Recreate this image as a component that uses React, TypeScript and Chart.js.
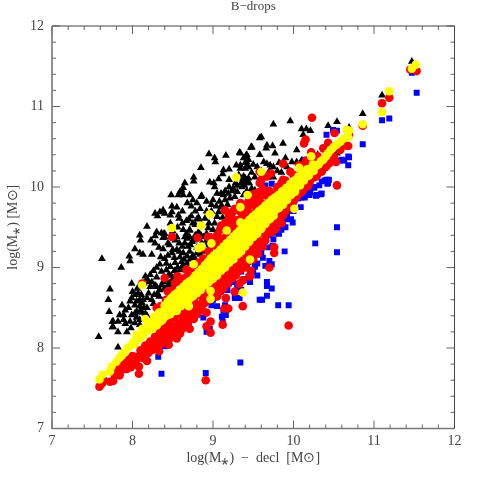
import React, { useEffect, useRef } from "react";
import { Chart, registerables } from "chart.js";

Chart.register(...registerables);

type P = [number, number];

const titleText = "B\u2212drops";
const xLabel = "log(M\u204E)  \u2212  decl  [M\u2299]";
const yLabel = "log(M\u204E) [M\u2299]";
const tickValues = [7, 7.2, 7.4, 7.6, 7.8, 8, 8.2, 8.4, 8.6, 8.8, 9, 9.2, 9.4, 9.6, 9.8, 10, 10.2, 10.4, 10.6, 10.8, 11, 11.2, 11.4, 11.6, 11.8, 12];

const blackPts: P[] = [
  [9.58,10.61],[9.48,10.50],[9.33,10.43],[9.41,10.39],[9.16,10.39],[8.95,10.41],[9.48,10.49],[9.42,10.40],[9.38,10.36],[9.02,10.36],
  [9.03,10.31],[9.42,10.31],[9.43,10.25],[8.85,10.24],[9.29,10.27],[9.34,10.23],[9.20,10.22],[9.13,10.21],[9.12,10.16],[9.07,10.10],
  [8.76,10.12],[8.76,10.07],[8.96,10.06],[9.01,10.05],[9.20,10.09],[9.02,10.00],[9.38,10.13],[9.42,10.08],[9.45,10.05],[9.39,10.02],
  [8.65,10.05],[8.63,9.99],[8.61,9.96],[8.59,9.94],[8.57,9.90],[8.63,9.90],[8.48,9.90],[8.71,9.90],[8.75,9.84],[8.86,9.89],
  [9.05,9.92],[9.13,9.90],[9.19,9.92],[9.15,9.84],[9.21,9.86],[9.27,9.88],[8.92,9.82],[9.00,9.84],[8.98,9.78],[8.84,9.73],
  [8.73,9.76],[8.49,9.76],[8.49,9.69],[8.47,9.65],[8.38,9.71],[8.34,9.69],[8.28,9.67],[8.40,9.67],[8.31,9.64],[8.58,9.61],
  [8.57,9.65],[8.73,9.64],[8.67,9.58],[8.90,9.61],[8.82,9.62],[8.80,9.60],[9.07,9.69],[9.05,9.63],[8.71,9.47],[8.63,9.47],
  [8.67,9.42],[8.30,9.44],[8.40,9.42],[8.28,9.39],[8.38,9.37],[8.65,9.38],[8.94,9.49],[8.92,9.42],[9.00,9.47],[8.88,9.38],
  [8.98,9.38],[8.71,9.38],[8.78,9.53],[7.62,9.11],[7.86,9.00],[7.96,9.14],[7.97,9.08],[8.18,9.51],[8.09,9.40],[8.10,9.34],
  [8.03,9.23],[8.09,9.18],[8.13,9.16],[7.99,8.80],[7.72,8.73],[7.70,8.60],[7.71,8.45],[7.87,8.53],[7.75,8.33],[7.75,8.26],
  [7.58,8.14],[7.82,8.01],[8.36,9.43],[8.23,9.34],[8.28,9.30],[8.40,9.38],[8.38,9.23],[8.49,9.18],[8.24,9.16],[8.35,9.13],
  [8.40,9.11],[8.53,9.06],[8.22,8.91],[8.16,8.89],[8.47,9.01],[8.42,8.97],[8.45,8.91],[8.36,8.95],[8.24,8.82],[8.28,8.78],
  [8.22,8.76],[8.34,8.72],[8.03,8.66],[8.07,8.68],[8.11,8.66],[7.99,8.62],[8.05,8.58],[8.09,8.60],[8.13,8.60],[7.97,8.58],
  [8.03,8.53],[8.09,8.52],[8.24,8.60],[8.26,8.55],[7.91,8.47],[7.84,8.41],[7.89,8.41],[7.99,8.41],[8.03,8.43],[7.76,8.33],
  [7.82,8.33],[7.89,8.35],[7.97,8.33],[8.03,8.31],[7.76,8.26],[7.91,8.30],[8.09,8.29],[8.09,8.35],[8.16,8.43],[8.76,9.34],
  [8.71,9.46],[8.74,9.32],[8.69,9.26],[8.65,9.30],[8.71,9.20],[8.63,9.18],[8.59,9.13],[8.61,9.07],[8.47,9.55],[8.39,9.42],
  [8.42,9.05],[8.20,8.82],[8.30,8.88],[8.05,8.45],[8.14,8.50],[8.18,8.62],[8.31,8.68],[8.55,9.22],[8.58,9.30],[8.82,9.44],
  [8.86,9.30],[8.52,9.12],[8.46,9.28],[8.55,9.38],[8.80,9.25],[8.75,9.15],[8.68,9.05],[8.62,9.02],[8.44,8.78],[8.38,8.82],
  [9.75,10.78],[9.96,10.82],[9.60,10.62],[10.10,10.72],[10.16,10.72],[10.21,10.70],[10.12,10.65],[10.43,10.76],[10.54,10.81],[9.47,10.49],
  [9.67,10.52],[9.66,10.48],[9.74,10.51],[9.87,10.54],[9.77,10.42],[9.34,10.42],[9.42,10.36],[9.40,10.30],[9.44,10.34],[9.58,10.40],
  [9.63,10.31],[9.67,10.29],[9.71,10.27],[9.75,10.25],[9.34,10.27],[9.44,10.25],[9.40,10.23],[10.04,10.46],[9.98,10.31],[10.04,10.31],
  [10.10,10.33],[10.30,10.40],[10.54,10.42],[9.36,10.11],[9.40,10.11],[9.44,10.11],[9.38,10.07],[9.42,10.05],[9.48,9.98],[9.52,9.96],
  [9.36,10.00],[9.46,9.92],[9.54,9.92],[11.47,11.56],[11.10,11.14],[10.86,10.91],[10.69,10.74],[9.28,10.05],[9.25,9.98],[9.30,9.94],
  [9.10,9.76],[9.18,9.78],[9.12,9.62],[8.95,9.55],[9.02,9.55],[9.08,9.50],[9.60,10.20],[9.70,10.20],[9.82,10.30],[9.90,10.36],
  [8.05,8.38],[8.12,8.44],[8.18,8.50],[8.12,8.56],[8.20,8.68],[8.27,8.66],[8.33,8.64],[8.30,8.76],[8.36,8.78],[8.42,8.84],
  [8.48,8.90],[8.52,8.96],[8.56,9.00],[8.40,8.74],[8.46,8.80],[8.50,8.86],[8.55,8.93],[8.60,8.97],[8.64,9.10],[8.68,9.14],
  [8.72,9.10],[8.77,9.12],[8.80,9.18],[8.84,9.16],[8.88,9.20],[8.92,9.28],[8.96,9.34],[9.00,9.32],[9.04,9.42],[8.92,9.34],
  [8.85,9.40],[8.78,9.40],[8.72,9.28],[8.68,9.36],[8.62,9.26],[8.58,9.20],[8.50,9.22],[8.44,9.15],[8.34,9.04],[8.30,9.00],
  [8.26,8.96],[8.18,8.86],[8.14,8.80],[8.06,8.74],[8.00,8.70],[8.53,9.34],[8.44,9.30],[8.33,9.25],[8.50,9.45],[8.56,9.50],
  [8.62,9.55],[8.70,9.60],[8.75,9.55],[8.85,9.55],[8.92,9.70],[8.98,9.70],[9.04,9.76],[9.08,9.82],[9.12,9.75],[9.24,9.95],
  [9.20,10.00],[9.15,9.95],[9.10,9.92],[8.80,9.80],[8.78,9.70],[8.62,9.70],[8.55,9.75],[8.68,9.80],[8.85,9.88],[9.30,10.02],
  [9.35,10.05],[9.32,10.15],[9.48,10.18],[9.52,10.12],[9.55,10.25],[9.50,10.28],[9.62,10.15],[9.68,10.12],[9.75,10.12],[9.80,10.20],
  [9.85,10.18],[9.92,10.25],[9.42,9.95],[9.38,9.90],[8.18,8.40],[8.10,8.47],[7.95,8.50],[7.93,8.20],[7.82,8.20],[7.98,8.25]
];

const bluePts: P[] = [
  [9.99,9.56],[10.54,9.50],[10.27,9.30],[10.54,9.19],[9.89,9.20],[9.70,9.08],[9.73,9.04],[9.52,9.02],[9.65,9.02],[9.67,8.82],
  [9.67,8.77],[9.73,8.74],[9.67,8.65],[9.61,8.60],[9.81,8.53],[9.94,8.53],[9.54,9.26],[9.74,9.27],[9.46,9.22],[9.46,8.82],
  [9.58,9.43],[9.65,9.43],[9.52,9.32],[9.77,9.43],[9.85,9.47],[9.85,9.53],[9.79,9.53],[9.70,9.40],[11.53,11.17],[11.47,11.42],
  [11.19,10.85],[11.10,10.83],[10.86,10.53],[10.69,10.37],[10.68,10.27],[10.58,10.33],[10.63,10.33],[10.54,10.70],[10.44,10.09],[10.39,10.08],
  [10.42,10.04],[10.34,9.91],[10.28,9.89],[10.32,10.02],[10.26,9.99],[10.21,9.93],[10.16,9.92],[10.14,9.87],[10.08,9.88],[10.06,9.86],
  [10.09,9.75],[9.92,9.63],[9.87,9.55],[9.95,9.70],[8.36,7.68],[8.32,7.89],[8.91,7.69],[9.34,7.82],[8.40,8.60],[8.92,8.20],
  [8.96,8.24],[8.82,8.42],[8.69,8.41],[9.12,8.33],[9.16,8.41],[9.27,8.62],[9.33,8.62],[9.18,8.72],[9.46,8.82],[9.52,9.01],
  [9.29,8.91],[8.98,8.53],[9.58,8.60],[8.45,8.08],[8.40,8.02],[7.64,7.60],[9.40,9.18],[9.13,8.76],[9.17,8.72],[9.15,8.53],
  [9.13,8.45],[8.96,9.24],[9.44,8.89],[9.11,8.39],[10.41,10.09],[10.35,10.07],[10.43,10.05],[10.29,9.90],[10.35,9.92],[10.20,9.90],
  [10.10,9.87],[10.14,9.98],[10.25,10.00],[10.04,9.86],[10.60,10.34],[10.68,10.38],[10.49,10.71],[9.73,10.04],[9.65,10.02],[10.14,10.34],
  [10.41,10.65],[8.60,8.25],[8.70,8.30],[8.85,8.50],[9.00,8.60],[9.05,8.65],[9.10,8.70],[9.20,8.80],[9.30,9.00],[9.35,8.95],
  [9.40,9.10],[9.50,9.15],[9.60,9.30],[9.80,9.50],[9.90,9.60],[10.00,9.70],[9.58,9.82],[9.20,9.65],[9.38,8.85],[9.55,9.05],
  [9.62,9.12],[9.42,9.00],[9.25,8.82],[9.05,8.52],[8.88,8.38],[9.60,9.18],[9.68,9.25],[9.75,9.35],[9.82,9.42],[9.90,9.50],
  [9.97,9.60],[9.30,8.75],[9.40,8.85],[9.50,8.95],[9.35,8.72],[9.55,8.90]
];

const redPts: P[] = [
  [7.59,7.52],[7.62,7.56],[7.64,7.60],[7.72,7.58],[7.76,7.59],[7.78,7.66],[7.84,7.66],[7.80,7.72],[7.86,7.72],[7.90,7.75],
  [7.93,7.74],[7.95,7.80],[7.98,7.76],[8.00,7.84],[8.03,7.80],[8.05,7.86],[8.08,7.68],[8.08,7.77],[8.08,7.90],[8.12,7.88],
  [8.14,7.95],[8.18,7.84],[8.17,7.98],[8.20,7.94],[8.23,8.03],[8.25,7.98],[8.27,8.07],[8.30,8.02],[8.32,8.11],[8.33,7.96],
  [8.36,8.05],[8.38,8.15],[8.40,8.08],[8.43,8.17],[8.45,8.04],[8.46,8.12],[8.48,8.22],[8.50,8.15],[8.52,8.26],[8.55,8.12],
  [8.55,8.21],[8.59,8.18],[8.58,8.30],[8.62,8.24],[8.64,8.34],[8.65,8.40],[8.68,8.30],[8.71,8.24],[8.70,8.38],[8.73,8.46],
  [8.76,8.36],[8.78,8.50],[8.80,8.42],[8.83,8.54],[8.86,8.48],[8.88,8.64],[8.90,8.56],[8.92,8.27],[8.92,8.44],[8.93,8.68],
  [8.97,8.19],[8.97,8.33],[8.96,8.60],[9.00,8.72],[9.02,8.64],[9.05,8.64],[9.05,8.78],[9.08,8.70],[9.10,8.84],[9.12,8.29],
  [9.13,8.74],[9.14,8.49],[9.15,8.88],[9.16,8.62],[9.18,8.80],[9.19,8.49],[9.20,8.92],[9.23,8.86],[9.25,8.98],[9.27,8.70],
  [9.28,8.90],[9.30,9.02],[9.33,8.80],[9.33,8.96],[9.36,9.06],[9.37,8.52],[9.37,8.84],[9.40,9.00],[9.42,9.12],[9.46,8.89],
  [9.47,8.96],[9.45,9.08],[9.48,9.18],[9.50,9.10],[9.53,9.22],[9.56,9.17],[9.56,9.28],[9.60,9.30],[9.62,9.26],[9.65,9.34],
  [9.66,9.40],[9.70,9.00],[9.70,9.44],[9.73,9.44],[9.75,9.51],[9.76,9.18],[9.76,9.25],[9.78,9.48],[9.80,9.56],[9.83,9.57],
  [9.85,9.55],[9.85,9.64],[9.87,9.65],[9.90,9.70],[9.94,8.28],[9.95,9.76],[10.00,9.73],[10.00,9.82],[10.04,9.88],[10.08,9.92],
  [10.12,9.96],[10.17,10.02],[10.20,10.06],[10.25,10.12],[10.27,10.13],[10.30,10.16],[10.35,10.19],[10.38,10.24],[10.41,10.26],[10.45,10.30],
  [10.53,10.31],[10.50,10.38],[10.54,10.02],[10.58,10.46],[10.63,10.52],[10.68,10.51],[8.91,7.60],[8.12,8.80],[8.49,9.38],[8.81,9.37],
  [8.86,9.24],[9.09,9.47],[8.40,8.87],[8.56,8.89],[8.53,8.81],[8.65,8.87],[8.71,8.93],[8.84,9.01],[8.76,8.95],[8.88,9.11],
  [8.67,8.97],[8.57,8.87],[9.15,9.71],[9.23,9.63],[9.58,10.19],[9.25,9.55],[9.54,9.86],[9.46,9.78],[9.42,9.71],[9.58,9.94],
  [9.27,9.73],[9.19,9.59],[8.94,9.38],[9.34,9.80],[9.50,9.82],[9.17,9.47],[9.31,9.59],[9.40,9.61],[9.48,9.67],[9.56,9.73],
  [9.00,9.36],[9.05,9.40],[9.12,9.36],[9.22,9.48],[9.28,9.44],[9.35,9.52],[10.23,10.86],[10.15,10.59],[10.13,10.54],[10.51,10.67],
  [10.43,10.55],[10.37,10.48],[10.22,10.43],[9.87,10.29],[9.96,10.19],[10.07,10.27],[9.72,10.17],[9.67,10.13],[9.60,10.09],[9.58,10.05],
  [9.87,10.09],[9.80,10.00],[10.18,10.01],[10.28,10.13],[10.40,10.25],[10.64,10.52],[9.62,9.98],[9.52,9.92],[9.46,9.86],[9.50,9.78],
  [9.40,9.71],[9.54,9.69],[11.53,11.44],[11.45,11.46],[11.19,11.11],[11.10,11.04],[10.86,10.76],[10.69,10.65],[10.16,10.33],[10.02,10.13],
  [9.70,9.85],[9.75,9.90],[9.62,9.74],[8.60,8.70],[8.70,8.80],[8.44,8.70],[8.30,8.50],[8.95,9.12],[9.05,9.25],[9.20,9.38],
  [8.22,8.08],[8.28,8.14],[8.34,8.20],[8.40,8.25],[8.46,8.31],[8.52,8.37],[8.58,8.43],[8.64,8.49],[8.70,8.55],[8.76,8.60],
  [8.82,8.66],[8.88,8.72],[8.94,8.78],[9.00,8.84],[9.06,8.90],[9.12,8.96],[9.18,9.02],[9.24,9.08],[9.30,9.14],[9.36,9.20],
  [9.42,9.26],[9.48,9.32],[9.54,9.38],[9.60,9.43],[9.68,9.50],[8.35,8.08],[8.44,8.16],[8.54,8.27],[8.62,8.34],[8.72,8.44],
  [8.80,8.52],[8.88,8.60],[8.96,8.68],[9.04,8.76],[9.12,8.84],[9.20,8.92],[9.28,9.00],[9.36,9.08],[9.44,9.16],[9.52,9.24],
  [9.60,9.32],[8.00,7.90],[7.96,7.86],[7.90,7.81],[7.84,7.77],[8.10,7.97],[8.16,8.03],[9.20,9.65],[9.25,9.70],[9.30,9.72],
  [9.35,9.68],[9.38,9.75],[9.44,9.82],[9.48,9.90],[9.52,9.78],[9.55,9.62],[9.60,9.80],[9.65,9.90],[9.70,9.95],[9.10,9.52],
  [9.15,9.55],[9.25,9.50],[8.95,9.20],[9.05,9.32],[9.10,9.30],[9.18,9.42],[9.30,9.50],[9.38,9.55],[9.45,9.60],[9.55,9.75],
  [9.62,9.90],[8.75,8.98],[8.82,9.06],[8.70,8.90],[8.60,8.82],[8.62,8.85],[8.50,8.72],[8.42,8.60],[8.35,8.52],[9.80,9.98],
  [9.85,10.05],[9.90,10.08],[10.00,10.15],[10.10,10.20],[10.15,10.27],[10.25,10.35],[10.30,10.38]
];

const yellowPts: P[] = [
  [9.29,10.12],[9.43,9.90],[8.96,9.66],[8.85,9.52],[8.49,9.49],[9.34,9.75],[9.60,10.19],[8.12,8.78],[8.16,8.36],[8.76,9.04],
  [8.82,9.24],[10.01,9.73],[10.07,10.24],[10.22,10.38],[10.66,10.71],[11.52,11.52],[11.47,11.47],[11.19,11.19],[11.10,10.93],[10.86,10.78],
  [10.69,10.70],[10.68,10.62],[9.46,9.10],[9.37,8.69],[8.97,8.71],[8.97,8.61],[8.70,8.52],[8.86,9.26],[8.98,9.30],[9.17,9.46],
  [9.34,9.56],[7.59,7.61],[7.63,7.67],[7.72,7.71],[7.74,7.77],[7.80,7.83],[7.84,7.88],[7.87,7.92],[7.90,7.94],[7.94,8.00],
  [7.98,8.03],[8.01,8.07],[8.03,8.05],[8.05,8.12],[8.08,8.15],[8.10,8.12],[8.13,8.20],[8.15,8.17],[8.18,8.25],[8.20,8.22],
  [8.23,8.30],[8.25,8.24],[8.28,8.35],[8.30,8.28],[8.32,8.38],[8.35,8.33],[8.36,8.44],[8.38,8.36],[8.40,8.48],[8.42,8.40],
  [8.45,8.52],[8.47,8.42],[8.49,8.58],[8.50,8.46],[8.52,8.50],[8.54,8.62],[8.55,8.46],[8.57,8.56],[8.59,8.66],[8.60,8.52],
  [8.62,8.60],[8.64,8.70],[8.65,8.56],[8.67,8.64],[8.69,8.74],[8.70,8.60],[8.72,8.68],[8.74,8.78],[8.75,8.64],[8.77,8.72],
  [8.79,8.82],[8.80,8.68],[8.82,8.76],[8.84,8.86],[8.85,8.72],[8.87,8.80],[8.89,8.92],[8.90,8.78],[8.92,8.84],[8.94,8.96],
  [8.95,8.82],[8.97,8.90],[8.99,9.00],[9.00,8.86],[9.02,8.94],[9.04,9.06],[9.05,8.90],[9.07,8.98],[9.09,9.10],[9.10,8.96],
  [9.12,9.04],[9.14,9.14],[9.15,9.00],[9.17,9.08],[9.19,9.20],[9.20,9.06],[9.22,9.14],[9.24,9.24],[9.25,9.10],[9.27,9.18],
  [9.29,9.30],[9.30,9.16],[9.32,9.24],[9.34,9.34],[9.35,9.20],[9.37,9.28],[9.39,9.40],[9.40,9.26],[9.42,9.34],[9.44,9.44],
  [9.45,9.32],[9.47,9.40],[9.49,9.50],[9.50,9.38],[9.52,9.44],[9.54,9.54],[9.55,9.42],[9.57,9.50],[9.59,9.60],[9.60,9.48],
  [9.62,9.56],[9.64,9.64],[9.65,9.54],[9.67,9.60],[9.69,9.68],[9.70,9.60],[9.72,9.66],[9.74,9.74],[9.75,9.64],[9.78,9.72],
  [9.80,9.80],[9.82,9.74],[9.85,9.82],[9.87,9.78],[9.90,9.88],[9.92,9.84],[9.95,9.92],[9.97,9.90],[10.00,9.98],[10.02,9.94],
  [10.05,10.02],[10.08,10.02],[10.10,10.08],[10.13,10.08],[10.16,10.14],[10.19,10.14],[10.22,10.20],[10.25,10.20],[10.28,10.26],[10.31,10.28],
  [10.34,10.32],[10.37,10.34],[10.40,10.38],[10.43,10.42],[10.46,10.46],[10.50,10.50],[10.54,10.53],[10.58,10.56],[10.62,10.60],
  [8.05,8.16],[8.12,8.24],[8.20,8.30],[8.27,8.39],[8.33,8.44],[8.40,8.53],[8.44,8.58],[8.48,8.62],[8.52,8.66],[8.56,8.69],
  [8.60,8.72],[8.63,8.76],[8.67,8.80],[8.71,8.83],[8.75,8.86],[8.78,8.90],[8.82,8.94],[8.86,8.98],[8.90,9.03],[8.94,9.07],
  [8.97,9.11],[9.01,9.15],[9.05,9.18],[9.09,9.22],[9.13,9.26],[9.17,9.30],[9.21,9.34],[9.25,9.38],[9.29,9.42],[9.33,9.46],
  [9.37,9.50],[9.41,9.55],[9.45,9.59],[9.49,9.63],[9.53,9.66],[9.57,9.70],[9.61,9.73],[9.65,9.77],[9.69,9.80],[9.73,9.84],
  [9.77,9.87],[9.81,9.90],[9.86,9.95],[9.91,9.99],[9.96,10.04],[10.01,10.08],[10.06,10.13],[10.11,10.17],[10.17,10.22],[10.24,10.28]
];

const toData = (pts: P[]) => pts.map(([x, y]) => ({ x, y }));

const frameTicks = {
  id: "frameTicks",
  afterDatasetsDraw(chart: any) {
    const { ctx, chartArea: a, scales } = chart;
    const { x, y } = scales;
    ctx.save();
    ctx.lineWidth = 1;
    ctx.strokeStyle = "#666";
    ctx.beginPath();
    tickValues.forEach((v) => {
      const len = Number.isInteger(v) ? 8 : 4;
      const px = x.getPixelForValue(v);
      const py = y.getPixelForValue(v);
      ctx.moveTo(px, a.bottom);
      ctx.lineTo(px, a.bottom - len);
      ctx.moveTo(px, a.top);
      ctx.lineTo(px, a.top + len);
      ctx.moveTo(a.left, py);
      ctx.lineTo(a.left + len, py);
      ctx.moveTo(a.right, py);
      ctx.lineTo(a.right - len, py);
    });
    ctx.stroke();
    ctx.strokeStyle = "#444";
    ctx.beginPath();
    ctx.moveTo(a.left, a.top);
    ctx.lineTo(a.right, a.top);
    ctx.lineTo(a.right, a.bottom);
    ctx.stroke();
    ctx.strokeStyle = "#777";
    ctx.lineWidth = 1.6;
    ctx.beginPath();
    ctx.moveTo(a.left, a.top);
    ctx.lineTo(a.left, a.bottom);
    ctx.lineTo(a.right, a.bottom);
    ctx.stroke();
    ctx.restore();
  },
};

const serif = "'Liberation Serif', serif";

export default function App() {
  const ref = useRef<HTMLCanvasElement>(null);
  useEffect(() => {
    const chart = new Chart(ref.current!, {
      type: "scatter",
      data: {
        datasets: [
          { data: toData(yellowPts), pointStyle: "circle", pointRadius: 4.3, backgroundColor: "#ffff00", borderWidth: 0 },
          { data: toData(redPts), pointStyle: "circle", pointRadius: 4.3, backgroundColor: "#ff0000", borderWidth: 0 },
          { data: toData(bluePts), pointStyle: "rect", pointRadius: 4.2, backgroundColor: "#0000ff", borderWidth: 0 },
          { data: toData(blackPts), pointStyle: "triangle", pointRadius: 4.5, backgroundColor: "#000", borderWidth: 0 },
        ],
      },
      options: {
        responsive: false,
        animation: false,
        layout: { padding: { right: 25.5, left: 0, top: 0, bottom: 0 } },
        plugins: {
          legend: { display: false },
          tooltip: { enabled: false },
          title: {
            display: true,
            fullSize: false,
            text: titleText,
            color: "#444",
            font: { family: serif, size: 13, weight: "normal", lineHeight: 1 },
            padding: { top: 0, bottom: 13 },
          },
        },
        scales: {
          x: {
            type: "linear",
            min: 7,
            max: 12,
            afterFit: (s: any) => { s.height = 51.5; },
            grid: { display: false, drawTicks: false },
            border: { display: false },
            ticks: { stepSize: 1, color: "#444", font: { family: serif, size: 14 }, padding: 4, maxRotation: 0, autoSkip: false },
            title: { display: true, text: xLabel, color: "#444", font: { family: serif, size: 14, lineHeight: 1 }, padding: { top: 0, bottom: 15 } },
          },
          y: {
            type: "linear",
            min: 7,
            max: 12,
            afterFit: (s: any) => { s.width = 52; },
            grid: { display: false, drawTicks: false },
            border: { display: false },
            ticks: { stepSize: 1, color: "#444", font: { family: serif, size: 14 }, padding: 8, autoSkip: false },
            title: { display: true, text: yLabel, color: "#444", font: { family: serif, size: 14, lineHeight: 1 }, padding: { top: 6, bottom: 0 } },
          },
        },
      },
      plugins: [frameTicks],
    } as any);
    return () => chart.destroy();
  }, []);
  return (
    <canvas
      ref={ref}
      width={480}
      height={480}
      style={{ position: "absolute", left: 0, top: 0, display: "block" }}
    />
  );
}
